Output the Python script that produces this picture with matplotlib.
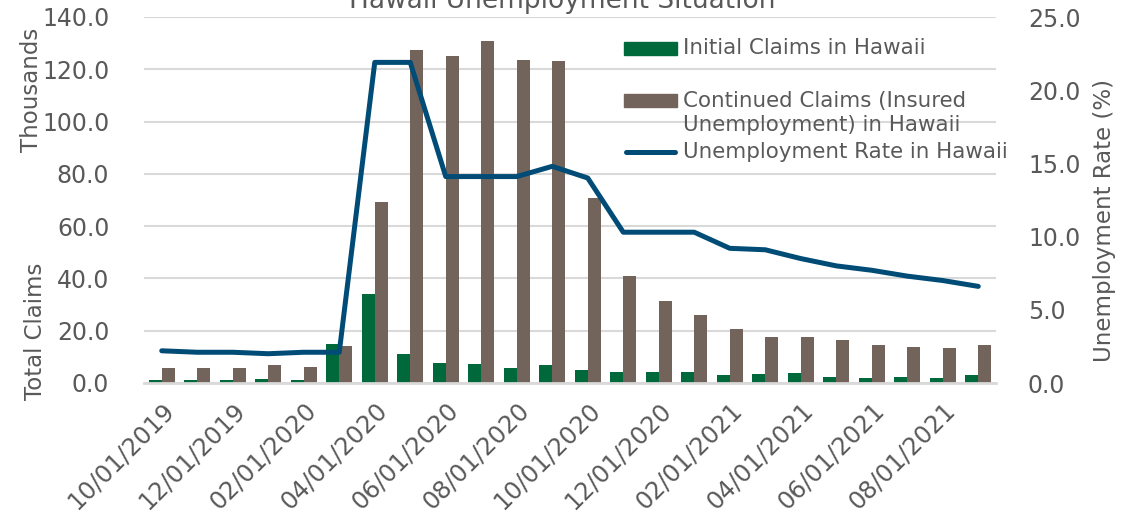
import numpy as np
import matplotlib
matplotlib.use('Agg')
import matplotlib.pyplot as plt
from matplotlib.patches import Rectangle
from matplotlib.lines import Line2D

# Datos (miles de solicitudes y tasa de desempleo %)
months = ['10/01/2019', '11/01/2019', '12/01/2019', '01/01/2020', '02/01/2020', '03/01/2020',
          '04/01/2020', '05/01/2020', '06/01/2020', '07/01/2020', '08/01/2020', '09/01/2020',
          '10/01/2020', '11/01/2020', '12/01/2020', '01/01/2021', '02/01/2021', '03/01/2021',
          '04/01/2021', '05/01/2021', '06/01/2021', '07/01/2021', '08/01/2021', '09/01/2021']
initial_claims = [1.3, 1.0, 1.2, 1.5, 1.2, 15.0, 34.2, 11.0, 7.5, 7.1, 5.6, 6.8,
                  4.9, 4.1, 4.1, 4.2, 3.2, 3.4, 3.8, 2.4, 1.9, 2.4, 2.0, 2.9]
continued_claims = [5.9, 5.9, 5.9, 6.8, 6.1, 14.0, 69.4, 127.4, 125.2, 130.7, 123.4, 123.3,
                    70.9, 40.8, 31.2, 26.0, 20.7, 17.6, 17.7, 16.4, 14.7, 13.6, 13.3, 14.4]
unemployment_rate = [2.2, 2.1, 2.1, 2.0, 2.1, 2.1, 21.9, 21.9, 14.1, 14.1, 14.1, 14.8,
                     14.0, 10.3, 10.3, 10.3, 9.2, 9.1, 8.5, 8.0, 7.7, 7.3, 7.0, 6.6]

legend_labels = ['Initial Claims in Hawaii',
                 'Continued Claims (Insured\nUnemployment) in Hawaii',
                 'Unemployment Rate in Hawaii']

green = '#00693C'
brown = '#73645B'
navy = '#004C76'
text_gray = '#595959'
grid_gray = '#D9D9D9'

W, H = 1145, 522
def px(x, y):
    return (x / W, 1 - y / H)

fig = plt.figure(figsize=(W / 100, H / 100), dpi=100)
ax = fig.add_axes([144 / W, (H - 383) / H, (996 - 144) / W, (383 - 17) / H])
ax2 = ax.twinx()

x = np.arange(len(months))
w = 0.36
ax.bar(x - w / 2, initial_claims, width=w, color=green, zorder=3)
ax.bar(x + w / 2, continued_claims, width=w, color=brown, zorder=3)
ax2.plot(x, unemployment_rate, color=navy, lw=3.6, solid_joinstyle='round',
         solid_capstyle='round', zorder=4)

# Eje izquierdo
ax.set_xlim(-0.5, len(months) - 0.5)
ax.set_ylim(0, 140)
ax.set_yticks(np.arange(0, 141, 20))
ax.set_yticklabels([f'{v:.1f}' for v in np.arange(0, 141, 20)])
ax.yaxis.grid(True, color=grid_gray, lw=1.5, zorder=0)
ax.set_axisbelow(True)
ax.set_xticks(x[::2])
ax.set_xticklabels(months[::2], rotation=45, ha='right', rotation_mode='anchor')
ax.tick_params(axis='x', length=0, pad=11, labelsize=17.5, labelcolor=text_gray)
ax.tick_params(axis='y', length=0, pad=25, labelsize=17, labelcolor=text_gray)

# Eje derecho
ax2.set_ylim(0, 25)
ax2.set_yticks(np.arange(0, 26, 5))
ax2.set_yticklabels([f'{v:.1f}' for v in np.arange(0, 26, 5)])
ax2.tick_params(axis='y', length=0, pad=23, labelsize=17, labelcolor=text_gray)

for a in (ax, ax2):
    for s in ['top', 'left', 'right', 'bottom']:
        a.spines[s].set_visible(False)
ax.spines['bottom'].set_visible(True)
ax.spines['bottom'].set_color(grid_gray)
ax.spines['bottom'].set_linewidth(2)
ax.spines['bottom'].set_zorder(5)

# Títulos
fig.text(*px(562, 8), 'Hawaii Unemployment Situation', ha='center', va='baseline',
         fontsize=19, color=text_gray)
fig.text(*px(32, 90), 'Thousands', rotation=90, ha='center', va='center',
         fontsize=16.5, color=text_gray)
fig.text(*px(35, 331), 'Total Claims', rotation=90, ha='center', va='center',
         fontsize=16.5, color=text_gray)
fig.text(*px(1105, 221), 'Unemployment Rate (%)', rotation=90, ha='center', va='center',
         fontsize=16.5, color=text_gray)

# Leyenda manual (estilo Excel)
fig.add_artist(Rectangle(px(624, 55), 53 / W, 13 / H, transform=fig.transFigure, color=green))
fig.add_artist(Rectangle(px(624, 107), 53 / W, 13 / H, transform=fig.transFigure, color=brown))
fig.add_artist(Line2D([626 / W, 675 / W], [1 - 152 / H] * 2, transform=fig.transFigure,
                      lw=3.6, color=navy, solid_capstyle='round'))
fig.text(*px(683, 48), legend_labels[0], va='center', fontsize=15.4, color=text_gray)
fig.text(*px(683, 113), legend_labels[1], va='center', fontsize=15.4, color=text_gray,
         linespacing=1.22)
fig.text(*px(683, 152), legend_labels[2], va='center', fontsize=15.4, color=text_gray)

fig.savefig('out.png', dpi=100)
